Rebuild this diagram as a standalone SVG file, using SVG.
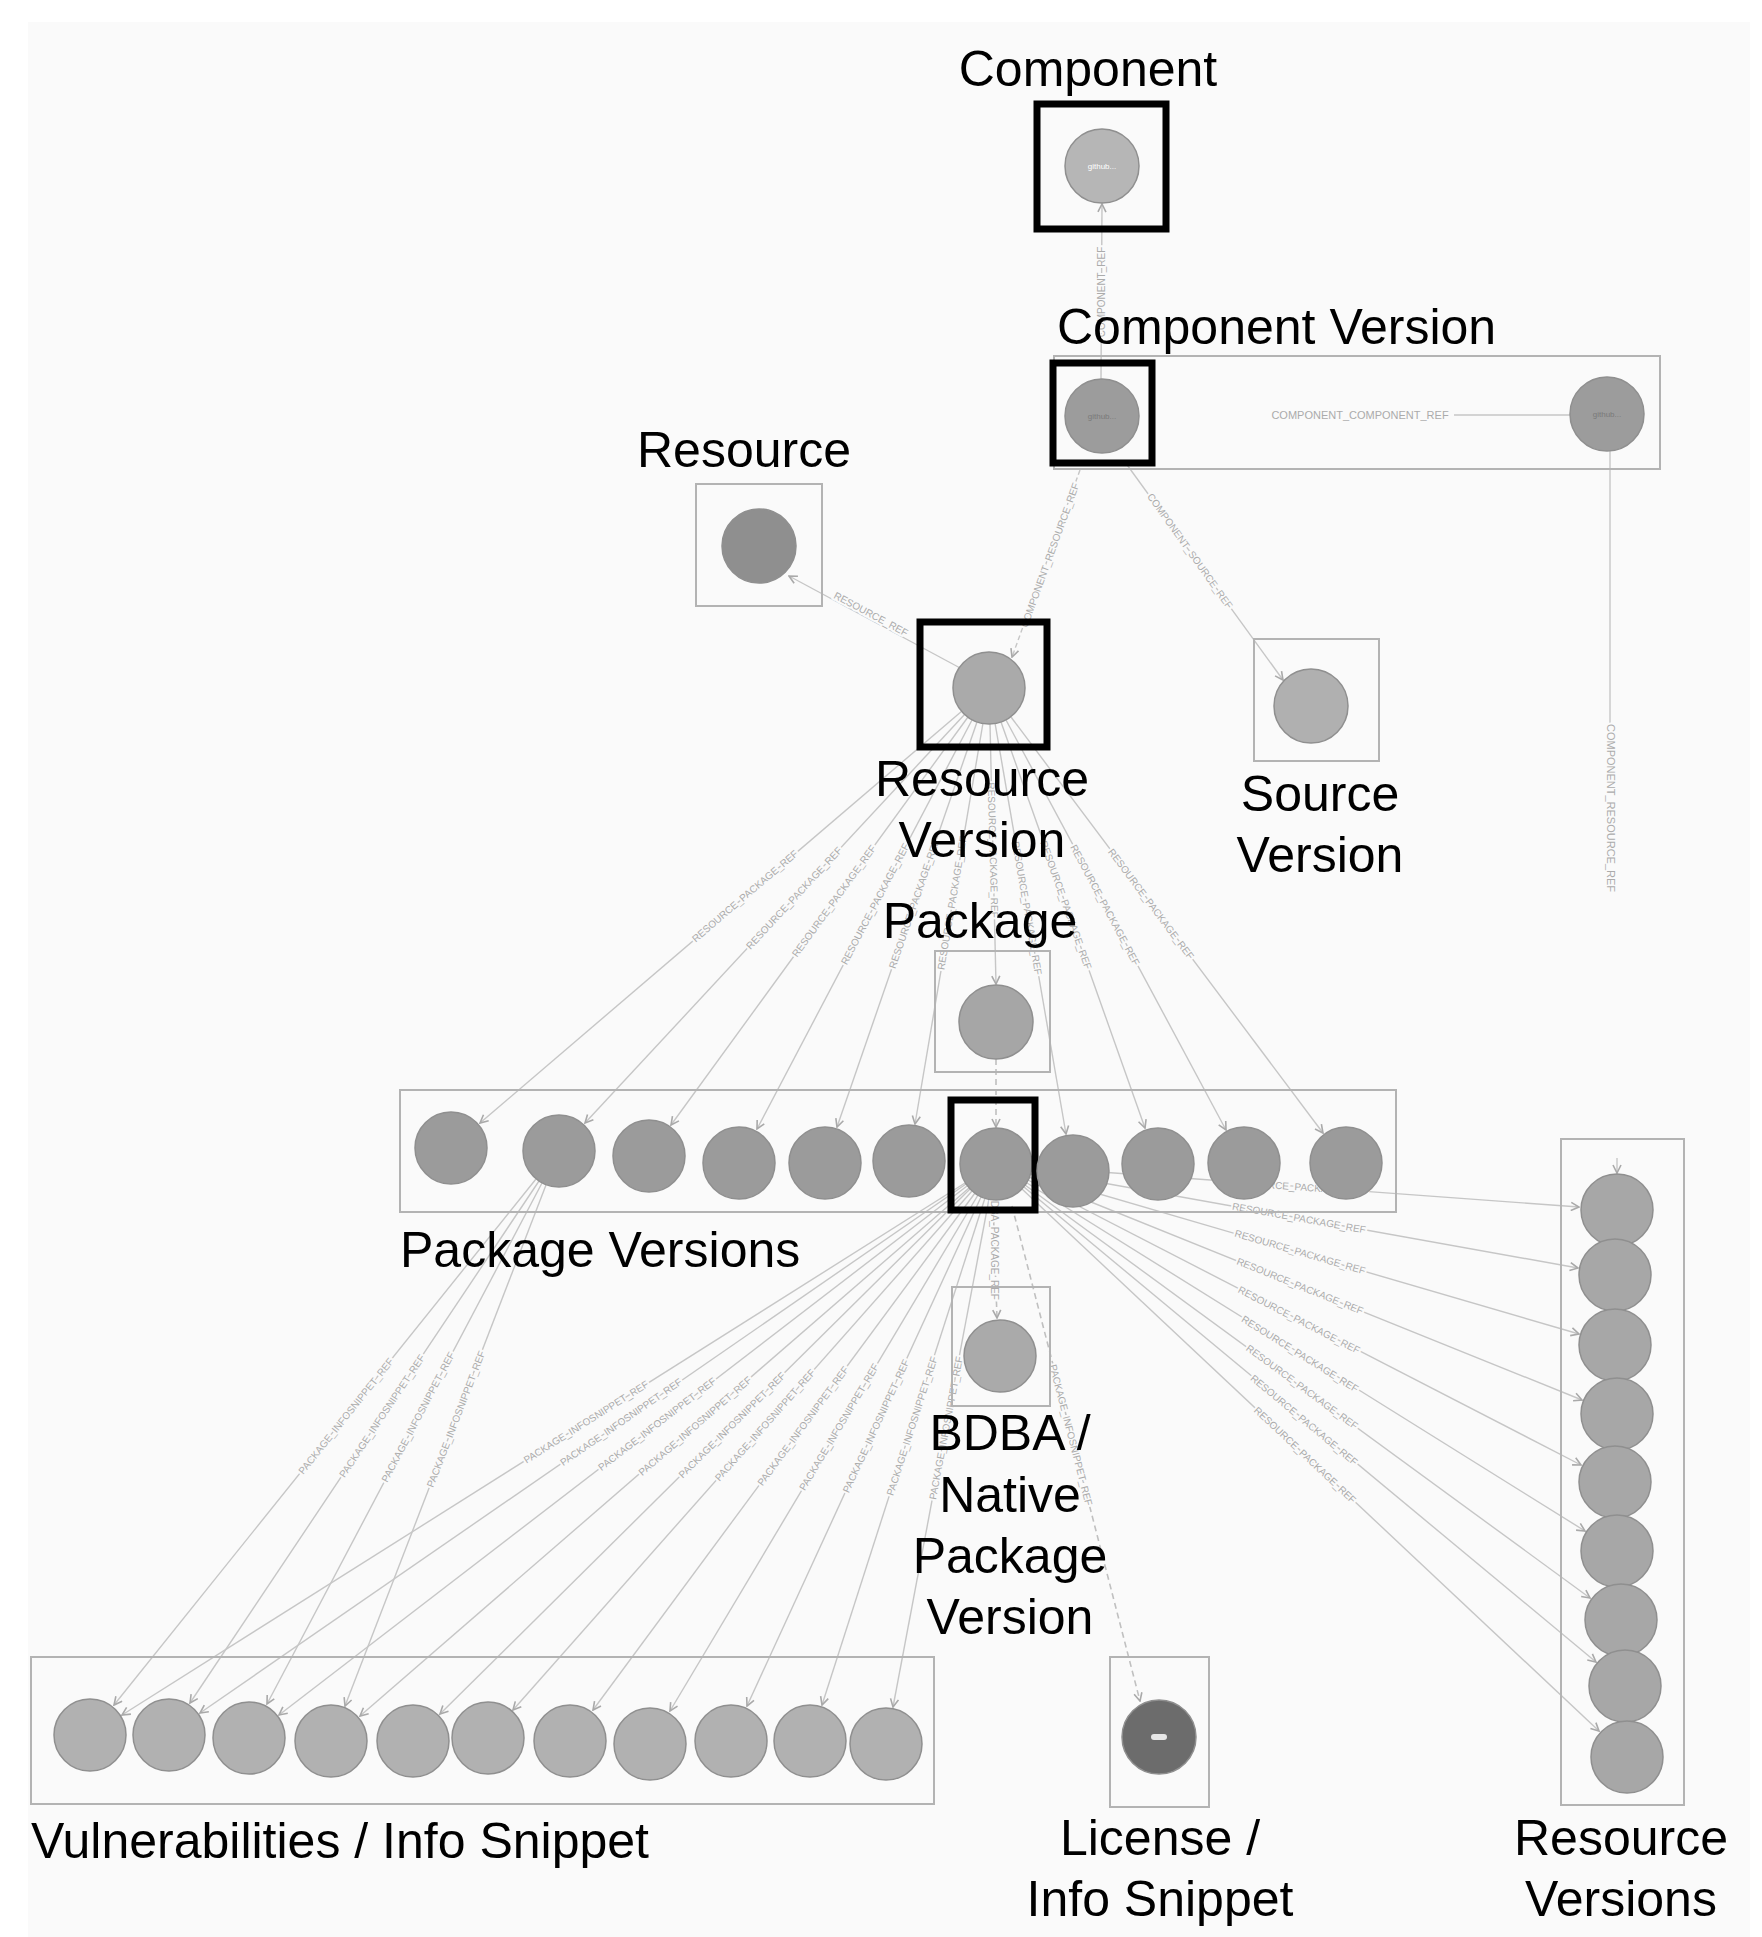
<svg xmlns="http://www.w3.org/2000/svg" width="1762" height="1937" viewBox="0 0 1762 1937">
<defs>
<style>
.lbl{font-family:"Liberation Sans",Arial,sans-serif;font-size:50px;fill:#000}
.mid{text-anchor:middle}
.el{font-family:"Liberation Sans",Arial,sans-serif;font-size:10px;fill:#ababab;text-anchor:middle;dominant-baseline:central;stroke:#fafafa;stroke-width:4px;paint-order:stroke}
.tiny{font-family:"Liberation Sans",Arial,sans-serif;font-size:8px;text-anchor:middle;dominant-baseline:central}
.box{fill:none;stroke:#b3b3b3;stroke-width:2}
.sel{fill:none;stroke:#000;stroke-width:7}
.e{fill:none;stroke:#c6c6c6;stroke-width:1.4;marker-end:url(#arr)}
.ed{fill:none;stroke:#c0c0c0;stroke-width:1.6;stroke-dasharray:6 4;marker-end:url(#arr)}
.c{stroke:#8f8f8f;stroke-width:1.5}
</style>
<marker id="arr" viewBox="0 0 10 10" refX="9" refY="5" markerWidth="10" markerHeight="10" orient="auto" markerUnits="userSpaceOnUse">
<path d="M1,1 L9,5 L1,9" fill="none" stroke="#a9a9a9" stroke-width="1.6"/>
</marker>
</defs>
<rect x="0" y="0" width="1762" height="1937" fill="#ffffff"/>
<rect x="28" y="22" width="1722" height="1915" fill="#fafafa"/>

<g id="connectors">
<!-- component version -> component -->
<line class="e" x1="1101" y1="379" x2="1102" y2="204"/>
<text class="el" transform="translate(1101,292) rotate(-90)">COMPONENT_REF</text>
<!-- component version -> component version (right) -->
<line x1="1454" y1="415" x2="1570" y2="415" stroke="#c6c6c6" stroke-width="1.6"/>
<text class="el" x="1360" y="415" style="font-size:11px">COMPONENT_COMPONENT_REF</text>
<!-- right component version -> resource version -->
<line x1="1610" y1="451" x2="1610" y2="725" stroke="#c6c6c6" stroke-width="1.4"/>
<text class="el" transform="translate(1611,808) rotate(90)" style="font-size:11px">COMPONENT_RESOURCE_REF</text>
<line class="e" x1="1617" y1="1158" x2="1617" y2="1173"/>
<!-- component version -> resource version -->
<line class="e" x1="1080" y1="470" x2="1012" y2="657" stroke-dasharray="5 3"/>
<text class="el" transform="translate(1050,555) rotate(-70)">COMPONENT_RESOURCE_REF</text>
<!-- component version -> source version -->
<line class="e" x1="1125" y1="462" x2="1283" y2="680"/>
<text class="el" transform="translate(1190,551) rotate(54.5)">COMPONENT_SOURCE_REF</text>
<!-- resource version -> resource -->
<line class="e" x1="962" y1="669" x2="789" y2="576"/>
<text class="el" transform="translate(871,614) rotate(28.2)">RESOURCE_REF</text>
<!-- resource version -> package versions -->
<line class="e" x1="962" y1="711" x2="480" y2="1123"/>
<line class="e" x1="965" y1="714" x2="585" y2="1123"/>
<line class="e" x1="968" y1="717" x2="671" y2="1125"/>
<line class="e" x1="972" y1="720" x2="757" y2="1129"/>
<line class="e" x1="977" y1="722" x2="837" y2="1127"/>
<line class="e" x1="983" y1="723" x2="915" y2="1124"/>
<line class="e" x1="990" y1="724" x2="996" y2="984"/>
<line class="e" x1="995" y1="723" x2="1066" y2="1134"/>
<line class="e" x1="1001" y1="722" x2="1145" y2="1128"/>
<line class="e" x1="1006" y1="720" x2="1226" y2="1130"/>
<line class="e" x1="1011" y1="717" x2="1323" y2="1133"/>
<text class="el" transform="translate(745,896) rotate(-40.5)">RESOURCE_PACKAGE_REF</text>
<text class="el" transform="translate(794,898) rotate(-47.1)">RESOURCE_PACKAGE_REF</text>
<text class="el" transform="translate(834,901) rotate(-54)">RESOURCE_PACKAGE_REF</text>
<text class="el" transform="translate(875,904) rotate(-62.3)">RESOURCE_PACKAGE_REF</text>
<text class="el" transform="translate(914,904) rotate(-71)">RESOURCE_PACKAGE_REF</text>
<text class="el" transform="translate(952,903) rotate(-80.4)">RESOURCE_PACKAGE_REF</text>
<text class="el" transform="translate(993,850) rotate(88.5)">RESOURCE_PACKAGE_REF</text>
<text class="el" transform="translate(1027,908) rotate(80.2)">RESOURCE_PACKAGE_REF</text>
<text class="el" transform="translate(1066,905) rotate(70.5)">RESOURCE_PACKAGE_REF</text>
<text class="el" transform="translate(1105,905) rotate(61.8)">RESOURCE_PACKAGE_REF</text>
<text class="el" transform="translate(1151,904) rotate(53.1)">RESOURCE_PACKAGE_REF</text>
<!-- package -> selected package version -->
<line class="ed" x1="996" y1="1059" x2="996" y2="1127"/>
<!-- package version 2 -> vulnerabilities -->
<line class="e" x1="536" y1="1179" x2="114" y2="1705"/>
<line class="e" x1="539" y1="1181" x2="190" y2="1703"/>
<line class="e" x1="542" y1="1183" x2="267" y2="1704"/>
<line class="e" x1="546" y1="1185" x2="345" y2="1706"/>
<text class="el" transform="translate(346,1416) rotate(-51.3)">PACKAGE_INFOSNIPPET_REF</text>
<text class="el" transform="translate(382,1416) rotate(-56.2)">PACKAGE_INFOSNIPPET_REF</text>
<text class="el" transform="translate(418,1417) rotate(-62.2)">PACKAGE_INFOSNIPPET_REF</text>
<text class="el" transform="translate(456,1419) rotate(-68.9)">PACKAGE_INFOSNIPPET_REF</text>
<!-- selected package version -> vulnerabilities -->
<line class="e" x1="965" y1="1183" x2="122" y2="1715"/>
<line class="e" x1="966" y1="1184" x2="200" y2="1713"/>
<line class="e" x1="967" y1="1186" x2="279" y2="1715"/>
<line class="e" x1="969" y1="1188" x2="360" y2="1716"/>
<line class="e" x1="970" y1="1189" x2="440" y2="1714"/>
<line class="e" x1="972" y1="1191" x2="513" y2="1710"/>
<line class="e" x1="975" y1="1193" x2="593" y2="1710"/>
<line class="e" x1="978" y1="1195" x2="670" y2="1711"/>
<line class="e" x1="981" y1="1197" x2="747" y2="1706"/>
<line class="e" x1="985" y1="1198" x2="822" y2="1705"/>
<line class="e" x1="989" y1="1199" x2="893" y2="1707"/>
<text class="el" transform="translate(586,1422) rotate(-32.3)">PACKAGE_INFOSNIPPET_REF</text>
<text class="el" transform="translate(621,1422) rotate(-34.6)">PACKAGE_INFOSNIPPET_REF</text>
<text class="el" transform="translate(657,1424) rotate(-37.6)">PACKAGE_INFOSNIPPET_REF</text>
<text class="el" transform="translate(695,1426) rotate(-40.9)">PACKAGE_INFOSNIPPET_REF</text>
<text class="el" transform="translate(732,1425) rotate(-44.7)">PACKAGE_INFOSNIPPET_REF</text>
<text class="el" transform="translate(765,1425) rotate(-48.5)">PACKAGE_INFOSNIPPET_REF</text>
<text class="el" transform="translate(803,1426) rotate(-53.5)">PACKAGE_INFOSNIPPET_REF</text>
<text class="el" transform="translate(839,1427) rotate(-59.2)">PACKAGE_INFOSNIPPET_REF</text>
<text class="el" transform="translate(876,1426) rotate(-65.3)">PACKAGE_INFOSNIPPET_REF</text>
<text class="el" transform="translate(912,1426) rotate(-72.2)">PACKAGE_INFOSNIPPET_REF</text>
<text class="el" transform="translate(946,1428) rotate(-79.3)">PACKAGE_INFOSNIPPET_REF</text>
<!-- selected package version -> BDBA -->
<line class="ed" x1="993" y1="1201" x2="997" y2="1318"/>
<text class="el" transform="translate(994,1247) rotate(90)">BDBA_PACKAGE_REF</text>
<!-- selected package version -> license -->
<line class="ed" x1="1012" y1="1206" x2="1140" y2="1701"/>
<text class="el" transform="translate(1071,1435) rotate(75.5)">PACKAGE_INFOSNIPPET_REF</text>
<!-- selected package version -> resource versions -->
<line class="e" x1="1032" y1="1167" x2="1579" y2="1207"/>
<line class="e" x1="1031" y1="1170" x2="1578" y2="1268"/>
<line class="e" x1="1031" y1="1174" x2="1579" y2="1334"/>
<line class="e" x1="1029" y1="1177" x2="1582" y2="1400"/>
<line class="e" x1="1028" y1="1180" x2="1581" y2="1465"/>
<line class="e" x1="1027" y1="1183" x2="1585" y2="1531"/>
<line class="e" x1="1025" y1="1185" x2="1590" y2="1598"/>
<line class="e" x1="1024" y1="1187" x2="1596" y2="1662"/>
<line class="e" x1="1022" y1="1189" x2="1599" y2="1731"/>
<text class="el" transform="translate(1300,1187) rotate(4.2)">RESOURCE_PACKAGE_REF</text>
<text class="el" transform="translate(1299,1218) rotate(10.2)">RESOURCE_PACKAGE_REF</text>
<text class="el" transform="translate(1300,1252) rotate(16.3)">RESOURCE_PACKAGE_REF</text>
<text class="el" transform="translate(1300,1286) rotate(22)">RESOURCE_PACKAGE_REF</text>
<text class="el" transform="translate(1299,1320) rotate(27.3)">RESOURCE_PACKAGE_REF</text>
<text class="el" transform="translate(1300,1354) rotate(32)">RESOURCE_PACKAGE_REF</text>
<text class="el" transform="translate(1302,1387) rotate(36.2)">RESOURCE_PACKAGE_REF</text>
<text class="el" transform="translate(1304,1420) rotate(39.7)">RESOURCE_PACKAGE_REF</text>
<text class="el" transform="translate(1305,1455) rotate(43.2)">RESOURCE_PACKAGE_REF</text>
</g>

<g id="component">
<text class="lbl mid" x="1088" y="86">Component</text>
<circle class="c" cx="1102" cy="166" r="37" fill="#b6b6b6" stroke="#a6a6a6"/>
<text class="tiny" x="1102" y="166" fill="#ffffff">github...</text>
<rect class="sel" x="1037" y="104" width="129" height="125"/>
</g>

<g id="component-version">
<text class="lbl" x="1057" y="344">Component Version</text>
<rect class="box" x="1054" y="356" width="606" height="113"/>
<circle class="c" cx="1102" cy="416" r="37" fill="#9c9c9c"/>
<text class="tiny" x="1102" y="416" fill="#7a7a7a">github...</text>
<rect class="sel" x="1053" y="363" width="99" height="100"/>
</g>
<g id="component-version-ref">
<circle class="c" cx="1607" cy="414" r="37" fill="#9c9c9c"/>
<text class="tiny" x="1607" y="414" fill="#7a7a7a">github...</text>
</g>

<g id="resource">
<text class="lbl mid" x="744" y="467">Resource</text>
<rect class="box" x="696" y="484" width="126" height="122"/>
<circle class="c" cx="759" cy="546" r="37" fill="#8f8f8f" stroke="#858585"/>
</g>

<g id="resource-version">
<rect class="sel" x="920" y="622" width="127" height="125"/>
<circle class="c" cx="989" cy="688" r="36" fill="#aaaaaa"/>
<text class="lbl mid" x="982" y="796">Resource</text>
<text class="lbl mid" x="982" y="857">Version</text>
</g>

<g id="source-version">
<rect class="box" x="1254" y="639" width="125" height="122"/>
<circle class="c" cx="1311" cy="706" r="37" fill="#b0b0b0" stroke="#a3a3a3"/>
<text class="lbl mid" x="1320" y="811">Source</text>
<text class="lbl mid" x="1320" y="872">Version</text>
</g>

<g id="package">
<text class="lbl mid" x="980" y="938">Package</text>
<rect class="box" x="935" y="951" width="115" height="121"/>
<circle class="c" cx="996" cy="1022" r="37" fill="#a6a6a6"/>
</g>

<g id="package-versions">
<rect class="box" x="400" y="1090" width="996" height="122"/>
<text class="lbl" x="400" y="1267">Package Versions</text>
<g id="pv-1"><circle class="c" cx="451" cy="1148" r="36" fill="#9b9b9b"/></g>
<g id="pv-2"><circle class="c" cx="559" cy="1151" r="36" fill="#9b9b9b"/></g>
<g id="pv-3"><circle class="c" cx="649" cy="1156" r="36" fill="#9b9b9b"/></g>
<g id="pv-4"><circle class="c" cx="739" cy="1163" r="36" fill="#9b9b9b"/></g>
<g id="pv-5"><circle class="c" cx="825" cy="1163" r="36" fill="#9b9b9b"/></g>
<g id="pv-6"><circle class="c" cx="909" cy="1161" r="36" fill="#9b9b9b"/></g>
<g id="pv-7"><circle class="c" cx="996" cy="1164" r="36" fill="#9b9b9b"/><rect class="sel" x="951" y="1100" width="84" height="110"/></g>
<g id="pv-8"><circle class="c" cx="1073" cy="1171" r="36" fill="#9b9b9b"/></g>
<g id="pv-9"><circle class="c" cx="1158" cy="1164" r="36" fill="#9b9b9b"/></g>
<g id="pv-10"><circle class="c" cx="1244" cy="1163" r="36" fill="#9b9b9b"/></g>
<g id="pv-11"><circle class="c" cx="1346" cy="1163" r="36" fill="#9b9b9b"/></g>
</g>

<g id="bdba-native-package-version">
<rect class="box" x="952" y="1287" width="98" height="119"/>
<circle class="c" cx="1000" cy="1356" r="36" fill="#aaaaaa" stroke="#9e9e9e"/>
<text class="lbl mid" x="1010" y="1450">BDBA /</text>
<text class="lbl mid" x="1010" y="1512">Native</text>
<text class="lbl mid" x="1010" y="1573">Package</text>
<text class="lbl mid" x="1010" y="1634">Version</text>
</g>

<g id="vulnerabilities">
<rect class="box" x="31" y="1657" width="903" height="147"/>
<text class="lbl" x="31" y="1858">Vulnerabilities / Info Snippet</text>
<g id="v-1"><circle class="c" cx="90" cy="1735" r="36" fill="#b1b1b1" stroke="#a5a5a5"/></g>
<g id="v-2"><circle class="c" cx="169" cy="1735" r="36" fill="#b1b1b1" stroke="#a5a5a5"/></g>
<g id="v-3"><circle class="c" cx="249" cy="1738" r="36" fill="#b1b1b1" stroke="#a5a5a5"/></g>
<g id="v-4"><circle class="c" cx="331" cy="1741" r="36" fill="#b1b1b1" stroke="#a5a5a5"/></g>
<g id="v-5"><circle class="c" cx="413" cy="1741" r="36" fill="#b1b1b1" stroke="#a5a5a5"/></g>
<g id="v-6"><circle class="c" cx="488" cy="1738" r="36" fill="#b1b1b1" stroke="#a5a5a5"/></g>
<g id="v-7"><circle class="c" cx="570" cy="1741" r="36" fill="#b1b1b1" stroke="#a5a5a5"/></g>
<g id="v-8"><circle class="c" cx="650" cy="1744" r="36" fill="#b1b1b1" stroke="#a5a5a5"/></g>
<g id="v-9"><circle class="c" cx="731" cy="1741" r="36" fill="#b1b1b1" stroke="#a5a5a5"/></g>
<g id="v-10"><circle class="c" cx="810" cy="1741" r="36" fill="#b1b1b1" stroke="#a5a5a5"/></g>
<g id="v-11"><circle class="c" cx="886" cy="1744" r="36" fill="#b1b1b1" stroke="#a5a5a5"/></g>
</g>

<g id="license">
<rect class="box" x="1110" y="1657" width="99" height="150"/>
<circle class="c" cx="1159" cy="1737" r="37" fill="#6c6c6c" stroke="#606060"/>
<rect x="1151" y="1734" width="16" height="6" rx="3" fill="#e6e6e6"/>
<text class="lbl mid" x="1160" y="1855">License /</text>
<text class="lbl mid" x="1160" y="1916">Info Snippet</text>
</g>

<g id="resource-versions">
<rect class="box" x="1561" y="1139" width="123" height="666"/>
<g id="rv-1"><circle class="c" cx="1617" cy="1210" r="36" fill="#a7a7a7"/></g>
<g id="rv-2"><circle class="c" cx="1615" cy="1275" r="36" fill="#a7a7a7"/></g>
<g id="rv-3"><circle class="c" cx="1615" cy="1345" r="36" fill="#a7a7a7"/></g>
<g id="rv-4"><circle class="c" cx="1617" cy="1414" r="36" fill="#a7a7a7"/></g>
<g id="rv-5"><circle class="c" cx="1615" cy="1482" r="36" fill="#a7a7a7"/></g>
<g id="rv-6"><circle class="c" cx="1617" cy="1551" r="36" fill="#a7a7a7"/></g>
<g id="rv-7"><circle class="c" cx="1621" cy="1620" r="36" fill="#a7a7a7"/></g>
<g id="rv-8"><circle class="c" cx="1625" cy="1686" r="36" fill="#a7a7a7"/></g>
<g id="rv-9"><circle class="c" cx="1627" cy="1757" r="36" fill="#a7a7a7"/></g>
<text class="lbl mid" x="1621" y="1855">Resource</text>
<text class="lbl mid" x="1621" y="1916">Versions</text>
</g>
</svg>
